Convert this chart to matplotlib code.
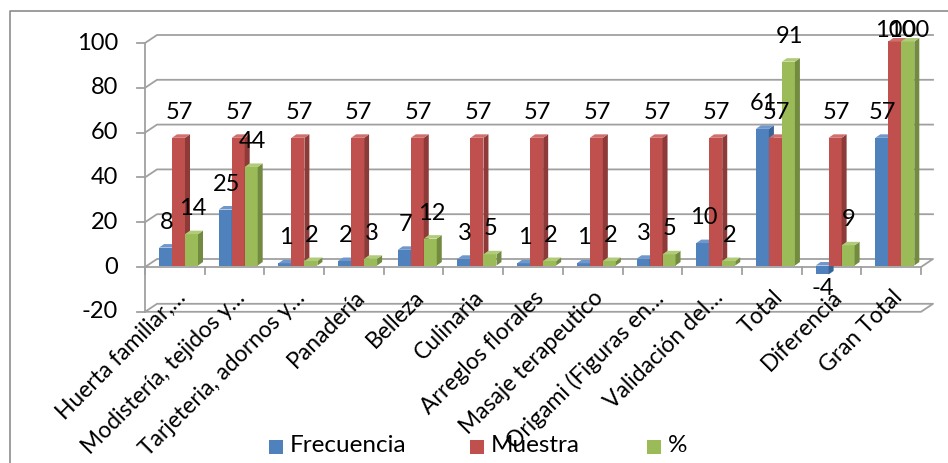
import matplotlib
matplotlib.use("Agg")
import matplotlib.pyplot as plt
from matplotlib.patches import Polygon, Rectangle
from matplotlib.lines import Line2D

plt.rcParams['font.family'] = ['Lato', 'DejaVu Sans']

categories = ["Huerta familiar,…", "Modistería, tejidos y…", "Tarjeteria, adornos y…",
              "Panadería", "Belleza", "Culinaria", "Arreglos florales",
              "Masaje terapeutico", "Origami (Figuras en…", "Validación del…",
              "Total", "Diferencia", "Gran Total"]
frecuencia = [8, 25, 1, 2, 7, 3, 1, 1, 3, 10, 61, -4, 57]
muestra = [57, 57, 57, 57, 57, 57, 57, 57, 57, 57, 57, 57, 100]
porcentaje = [14, 44, 2, 3, 12, 5, 2, 2, 5, 2, 91, 9, 100]
series_names = ["Frecuencia", "Muestra", "%"]
yticks = [-20, 0, 20, 40, 60, 80, 100]

front_cols = ['#4F81BD', '#C0504D', '#9BBB59']
side_cols = ['#3A6496', '#8E3A38', '#728B40']
top_cols = ['#6F97CB', '#D0706D', '#B0CC78']

W, H = 948, 463
fig = plt.figure(figsize=(W / 100, H / 100), dpi=100)
x0p, x1p = 145, 921
y_top, y_bot = 43, 311.8
ax = fig.add_axes([x0p / W, (H - y_bot) / H, (x1p - x0p) / W, (y_bot - y_top) / H])
n = len(categories)
ax.set_xlim(0, n)
ax.set_ylim(-20, 100)
ax.axis('off')

ux = (x1p - x0p) / n
uy = (y_bot - y_top) / 120.0
grid_c = '#a0a0a0'
glw = 1.3
fs = 17

# back wall offset
wx, wy = 12 / ux, 8 / uy
for yv in [20, 40, 60, 80, 100]:
    ax.add_line(Line2D([0, wx, n + wx], [yv, yv + wy, yv + wy], color=grid_c, lw=glw,
                       clip_on=False, zorder=1))
for yv in [0, -20]:
    ax.add_line(Line2D([0, n, n + wx, wx, 0], [yv, yv, yv + wy, yv + wy, yv], color=grid_c,
                       lw=glw, clip_on=False, zorder=1))
ax.add_line(Line2D([0, 0], [-20, 100], color=grid_c, lw=glw, clip_on=False, zorder=1))
tl = 8 / ux
for yv in yticks:
    ax.add_line(Line2D([-tl, 0], [yv, yv], color=grid_c, lw=glw, clip_on=False, zorder=1))
    ax.text(-27 / ux, yv, str(yv), ha='right', va='center', fontsize=fs, color='black')
for i in range(n + 1):
    ax.add_line(Line2D([i, i], [0, -7 / uy], color=grid_c, lw=glw, clip_on=False, zorder=1))

# bars
bw = 13 / ux
boff = 14 / ux
dx, dy = 5 / ux, 3.5 / uy
shift = 1.5 / uy
all_series = [frecuencia, muestra, porcentaje]
for i in range(n):
    for s, vals in enumerate(all_series):
        v = vals[i]
        xl = i + boff + s * bw
        xr = xl + bw
        lo, hi = min(0, v) + shift, max(0, v) + shift
        z = 3 + s * 0.1
        ax.add_patch(Polygon([[xl, lo], [xr, lo], [xr, hi], [xl, hi]], closed=True,
                             facecolor=front_cols[s], edgecolor='none', zorder=z,
                             clip_on=False))
        ax.add_patch(Polygon([[xr, lo], [xr + dx, lo + dy], [xr + dx, hi + dy], [xr, hi]],
                             closed=True, facecolor=side_cols[s], edgecolor='none',
                             zorder=z, clip_on=False))
        ax.add_patch(Polygon([[xl, hi], [xr, hi], [xr + dx, hi + dy], [xl + dx, hi + dy]],
                             closed=True, facecolor=top_cols[s], edgecolor='none',
                             zorder=z, clip_on=False))
        if v >= 0:
            ly = min(v + 12, 105.5)
        else:
            ly = v - 5.5
        ax.text(xl + bw / 2 + 1 / ux, ly, str(v), ha='center', va='center', fontsize=fs,
                color='black', zorder=10)

# category labels
for i, c in enumerate(categories):
    ax.text(i + 0.5, -8.8, c, rotation=45, rotation_mode='anchor', ha='right',
            va='top', fontsize=16.5, color='black', clip_on=False)

# legend
leg_x = [269, 470, 647]
for s, name in enumerate(series_names):
    fig.add_artist(Rectangle((leg_x[s] / W, (H - 454) / H), 14 / W, 14 / H,
                             transform=fig.transFigure, facecolor=front_cols[s],
                             edgecolor='none'))
    fig.text((leg_x[s] + 21) / W, (H - 446) / H, name, ha='left', va='center', fontsize=17.5)

# chart border
fig.add_artist(Line2D([10 / W, 10 / W, 1.0], [0, (H - 11) / H, (H - 11) / H],
                      transform=fig.transFigure, color='#8c8c8c', lw=1.2))

fig.savefig('out.png', dpi=100)
